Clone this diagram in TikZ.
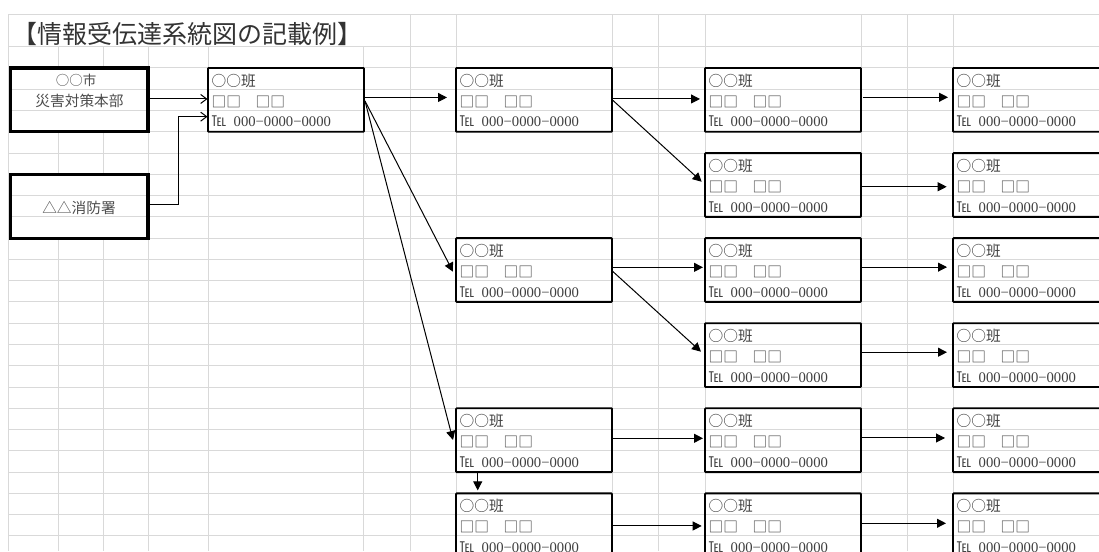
\documentclass[tikz,border=0pt]{standalone}
\usepackage{fontspec}
\setmainfont{Liberation Serif}
\newfontfamily\jp{Noto Sans CJK JP}
\newfontfamily\lserif{Liberation Serif}
\usetikzlibrary{arrows.meta,calc}
\newcommand\teambox[3]{%
  \node[tbox] (#1) at (#2,#3) {};
  \node[tline] (#1-a) at ($(#1.north west)+(3.5,18.5)$) {○○班};
  \node[tline] (#1-b) at ($(#1.north west)+(3.5,39.5)$) {□□　□□};
  \node[tline] (#1-c) at ($(#1.north west)+(3.5,59)$) {℡\hspace{7.33pt}{\lserif\fontsize{14.67pt}{16pt}\selectfont 000−0000−0000}};
}
\begin{document}
\begin{tikzpicture}[x=1pt,y=-1pt,
  gridline/.style={draw=black!15, line width=1pt},
  tbox/.style={draw=black, line width=1.9pt, rounded corners=0.8pt, minimum width=156pt, minimum height=63.8pt, inner sep=0pt, outer sep=0pt, anchor=north west},
  hqbox/.style={draw=black, line width=3.2pt, minimum width=137.7pt, minimum height=63.8pt, inner sep=0pt, outer sep=0pt, anchor=north west},
  tline/.style={font={\jp\fontsize{14.67pt}{16pt}\selectfont}, text=black!75, anchor=base west, inner sep=0pt},
  hqtext/.style={text=black!70, anchor=base, inner sep=0pt},
  conn/.style={line width=1pt, -{Triangle[length=9pt,width=9pt]}},
  oconn/.style={line width=1pt, -{Straight Barb[length=6pt,width=9pt]}},
]
\useasboundingbox (0,0) rectangle (1099,551);
\clip (0,0) rectangle (1099,551);
\fill[white] (0,0) rectangle (1099,551);

% grid
\draw[gridline] (8,14.7) -- (1099,14.7);
\foreach \k in {0,...,23} {
  \draw[gridline] (8,{46.7+21.27*\k}) -- (1099,{46.7+21.27*\k});
}
\foreach \x in {8,410,456,612,658,705,861,907,953} {
  \draw[gridline] (\x,14.7) -- (\x,551);
}
\foreach \x in {148,208,363} {
  \draw[gridline] (\x,46.7) -- (\x,551);
}
\foreach \x in {58,103} {
  \draw[gridline] (\x,46.7) -- (\x,68);
  \draw[gridline] (\x,131.8) -- (\x,174.3);
  \draw[gridline] (\x,238.1) -- (\x,551);
}

% title
\node[anchor=base west, inner sep=0pt, font={\jp\fontsize{25pt}{27pt}\selectfont}, text=black!80] (title) at (12,43.5) {【情報受伝達系統図の記載例】};

% headquarters and fire department
\node[hqbox] (hq) at (10.3,67.97) {};
\node[hqtext, font={\jp\fontsize{13.5pt}{15pt}\selectfont}] (hq-a) at (76,85.5) {○○市};
\node[hqtext, font={\jp\fontsize{14.67pt}{16pt}\selectfont}] (hq-b) at (79.5,106) {災害対策本部};

\node[hqbox] (fd) at (10.3,174.32) {};
\node[hqtext, font={\jp\fontsize{14.67pt}{16pt}\selectfont}] (fd-a) at (79,213) {△△消防署};

% team boxes
\teambox{A1}{208}{67.97}
\teambox{A2}{456}{67.97}
\teambox{A3}{705}{67.97}
\teambox{A4}{953}{67.97}
\teambox{B3}{705}{153.05}
\teambox{B4}{953}{153.05}
\teambox{C2}{456}{238.13}
\teambox{C3}{705}{238.13}
\teambox{C4}{953}{238.13}
\teambox{D3}{705}{323.21}
\teambox{D4}{953}{323.21}
\teambox{E2}{456}{408.29}
\teambox{E3}{705}{408.29}
\teambox{E4}{953}{408.29}
\teambox{F2}{456}{493.37}
\teambox{F3}{705}{493.37}
\teambox{F4}{953}{493.37}

% open arrows into first team
\draw[oconn] ($(hq.north east)+(0,31)$) -- ($(A1.north west)+(-0.5,31)$);
\draw[oconn] ($(fd.north east)+(0,29.7)$) -| ($(A1.north west)+(-30,48.7)$) -- ($(A1.north west)+(-0.5,48.7)$);

% connectors
\draw[conn] ($(A1.north east)+(0,29.5)$) -- ($(A2.north west)+(-9,29.5)$);
\draw[conn] ($(A1.north east)+(1,33)$) -- ($(C2.north west)+(-3,33.6)$);
\draw[conn] ($(A1.north east)+(1,33)$) -- ($(E2.north west)+(-3,31.7)$);
\draw[conn] ($(A2.north east)+(0,31)$) -- ($(A3.north west)+(-5,31)$);
\draw[conn] ($(A2.north east)+(1,32.5)$) -- ($(B3.north west)+(-3.3,28.7)$);
\draw[conn] ($(A3.north east)+(2,29.3)$) -- ($(A4.north west)+(-5,29.3)$);
\draw[conn] ($(B3.north east)+(0.7,33.7)$) -- ($(B4.north west)+(-6.3,33.7)$);
\draw[conn] ($(C2.north east)+(0,29.2)$) -- ($(C3.north west)+(-2,29.2)$);
\draw[conn] ($(C2.north east)+(0,32.6)$) -- ($(D3.north west)+(-4,28.5)$);
\draw[conn] ($(C3.north east)+(0,29)$) -- ($(C4.north west)+(-6,29)$);
\draw[conn] ($(D3.north east)+(0,29)$) -- ($(D4.north west)+(-6,29)$);
\draw[conn] ($(E2.north east)+(0,30)$) -- ($(E3.north west)+(-2,30)$);
\draw[conn] ($(E3.north east)+(-1,29.7)$) -- ($(E4.north west)+(-8,29.7)$);
\draw[conn] ($(E2.south west)+(21.7,-1)$) -- ($(F2.north west)+(21.7,-3)$);
\draw[conn] ($(F2.north east)+(0,32.6)$) -- ($(F3.north west)+(-3.3,32.6)$);
\draw[conn] ($(F3.north east)+(0,29.9)$) -- ($(F4.north west)+(-7,29.9)$);
\end{tikzpicture}
\end{document}
